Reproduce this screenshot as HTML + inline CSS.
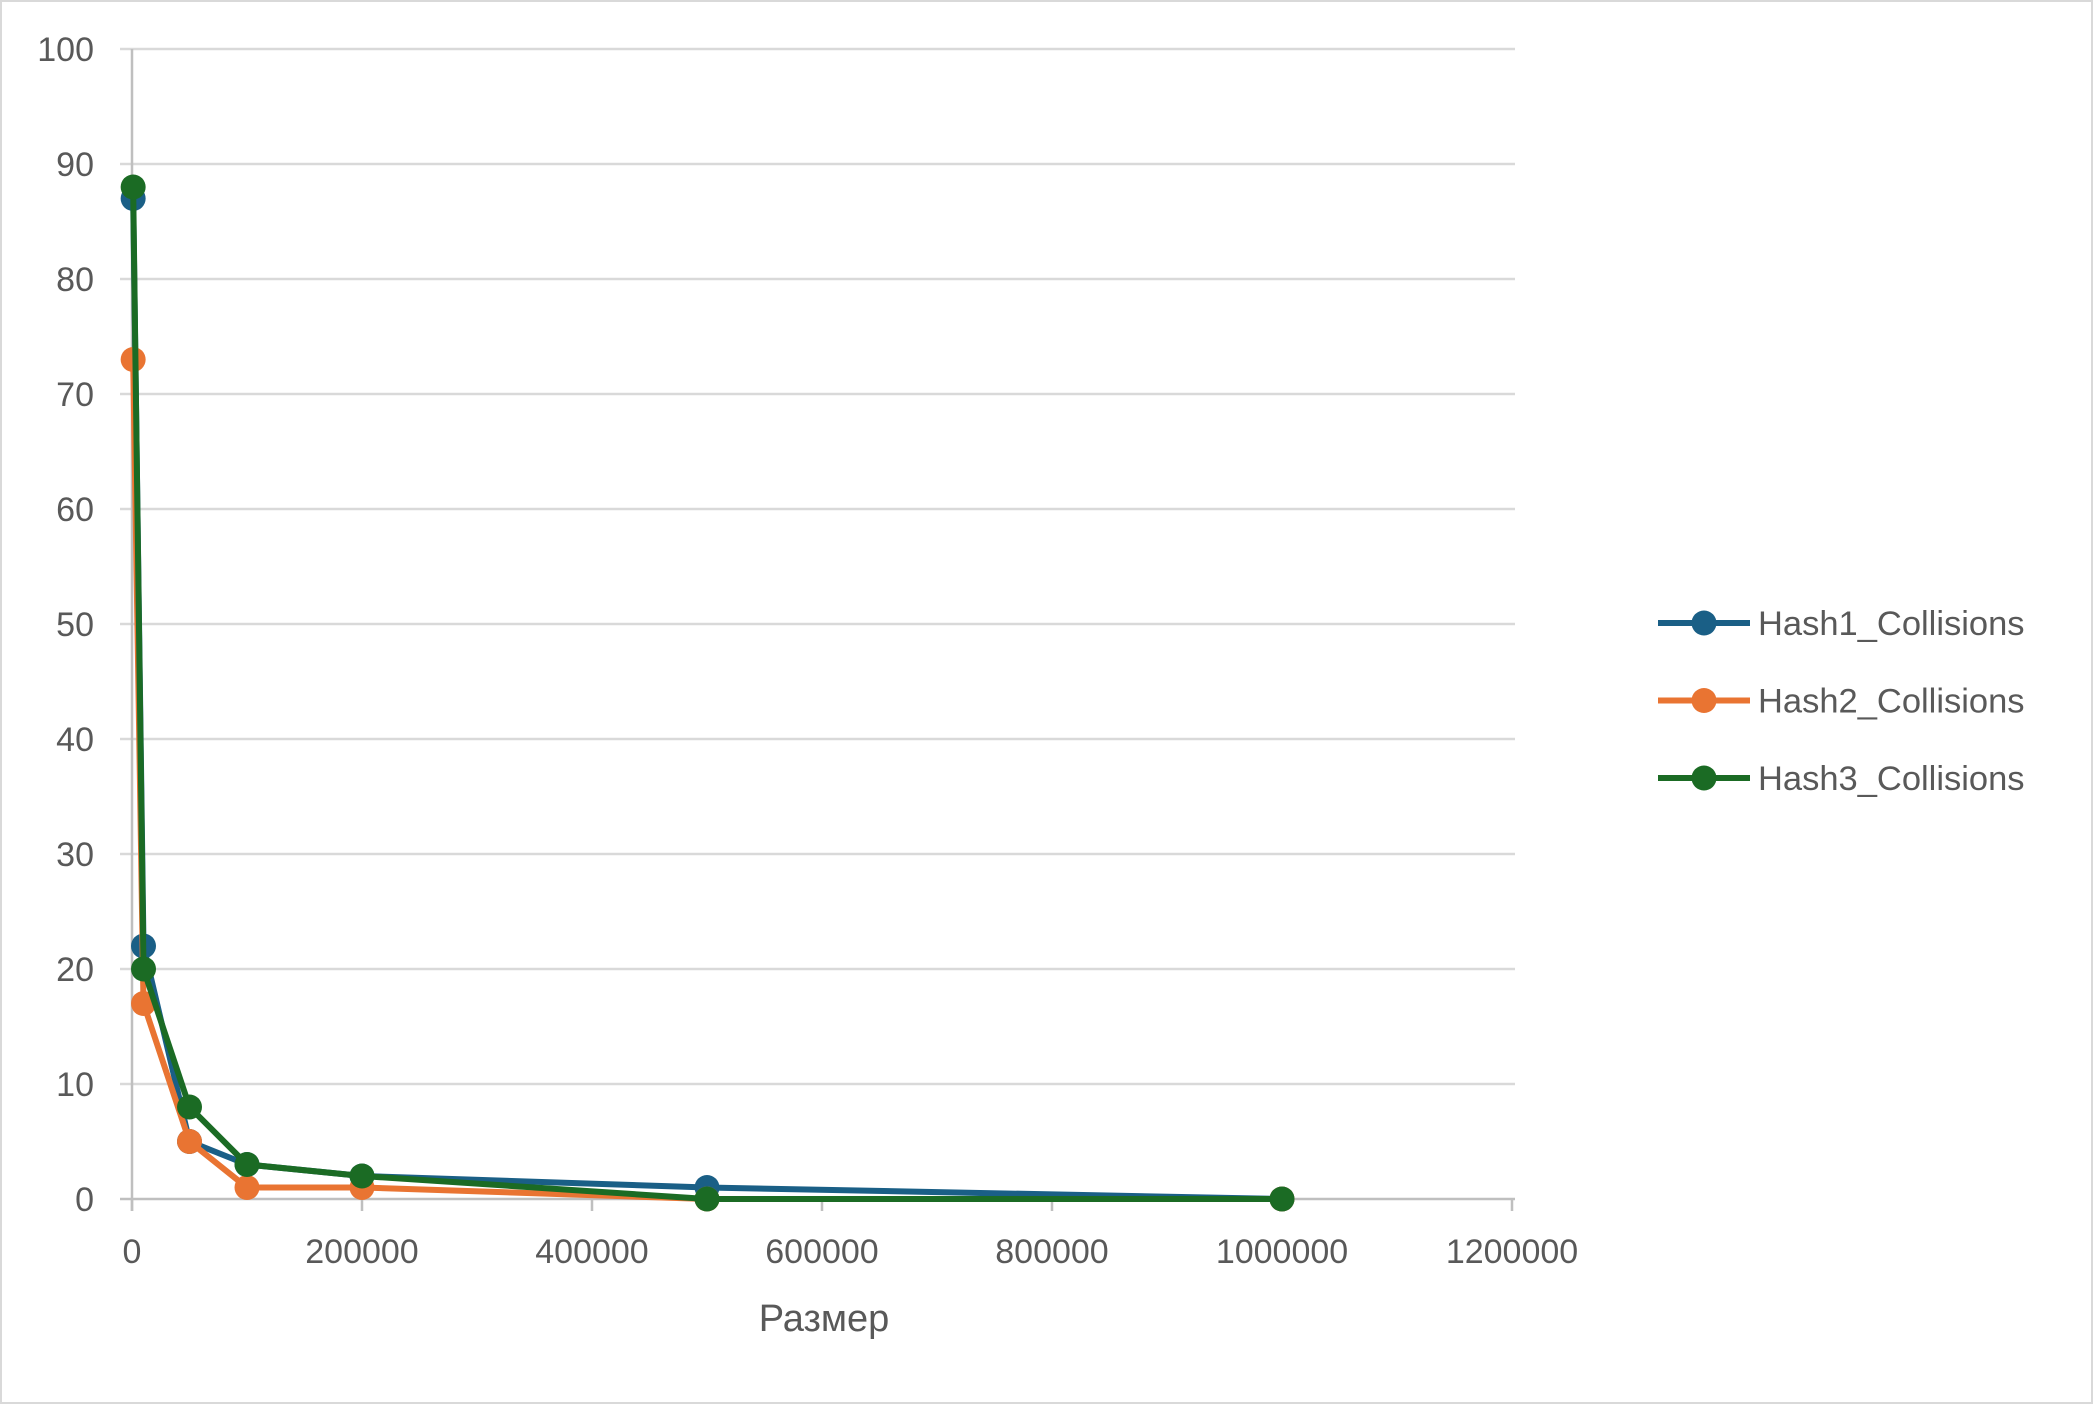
<!DOCTYPE html>
<html><head><meta charset="utf-8"><style>
body{margin:0;background:#fff}
svg{display:block;font-family:"Liberation Sans","DejaVu Sans",sans-serif}
</style></head><body>
<svg id="chart" width="2093" height="1404" viewBox="0 0 2093 1404">
<rect x="1" y="1" width="2091" height="1402" fill="#fff" stroke="#d9d9d9" stroke-width="2"/>
<g id="grid"></g><g id="axes"></g><g id="series"></g><g id="legend"></g>
<text x="824" y="1331" font-size="38" fill="#595959" text-anchor="middle">Размер</text>
</svg>
<script>
const xValues=[1000,10000,50000,100000,200000,500000,1000000];
const hash1=[87,22,5,3,2,1,0];
const hash2=[73,17,5,1,1,0,0];
const hash3=[88,20,8,3,2,0,0];
const xTicks=[0,200000,400000,600000,800000,1000000,1200000];
const yTicks=[0,10,20,30,40,50,60,70,80,90,100];
const seriesNames=["Hash1_Collisions","Hash2_Collisions","Hash3_Collisions"];
const colors=["#1a5f86","#e97432","#1b6b24"];
const NS="http://www.w3.org/2000/svg";
const X0=132,X1=1512,Y0=1199,Y1=49;
const sx=v=>X0+(v/1200000)*(X1-X0);
const sy=v=>Y0-(v/100)*(Y0-Y1);
function mk(tag,attrs,parent,text){const e=document.createElementNS(NS,tag);for(const k in attrs)e.setAttribute(k,attrs[k]);if(text!==undefined)e.textContent=text;parent.appendChild(e);return e;}
const grid=document.getElementById('grid'),axes=document.getElementById('axes'),ser=document.getElementById('series'),leg=document.getElementById('legend');
yTicks.forEach(t=>{
  const l=mk('line',{x1:X0-12,x2:1515,y1:sy(t),y2:sy(t),stroke:t===0?'#bfbfbf':'#d9d9d9','stroke-width':2.5},grid);
  
  
  const tx=mk('text',{x:94,y:sy(t)+12,'font-size':34,fill:'#595959','text-anchor':'end'},axes,String(t));
  
  
});
const ya=mk('line',{x1:X0,x2:X0,y1:Y1,y2:Y0+12,stroke:'#bfbfbf','stroke-width':2.5},axes);


xTicks.forEach(t=>{
  const l=mk('line',{x1:sx(t),x2:sx(t),y1:Y0,y2:Y0+12,stroke:'#bfbfbf','stroke-width':2.5},axes);
  
  
  const tx=mk('text',{x:sx(t),y:1263,'font-size':34,fill:'#595959','text-anchor':'middle'},axes,String(t));
  
  
});
[hash1,hash2,hash3].forEach((data,i)=>{
  const g=mk('g',{},ser);
  
  
  const pts=data.map((v,j)=>sx(xValues[j])+','+sy(v)).join(' ');
  const pl=mk('polyline',{points:pts,fill:'none',stroke:colors[i],'stroke-width':6,'stroke-linejoin':'round'},g);
  
  
  data.forEach((v,j)=>{
    const c=mk('circle',{cx:sx(xValues[j]),cy:sy(v),r:12.5,fill:colors[i]},g);
    
    
  });
  const ly=623+i*77.5;
  const lg=mk('g',{},leg);
  
  
  mk('line',{x1:1658,x2:1750,y1:ly,y2:ly,stroke:colors[i],'stroke-width':6},lg);
  mk('circle',{cx:1704,cy:ly,r:12.5,fill:colors[i]},lg);
  mk('text',{x:1758,y:ly+12,'font-size':34.5,fill:'#595959'},lg,seriesNames[i]);
});
</script>
</body></html>
